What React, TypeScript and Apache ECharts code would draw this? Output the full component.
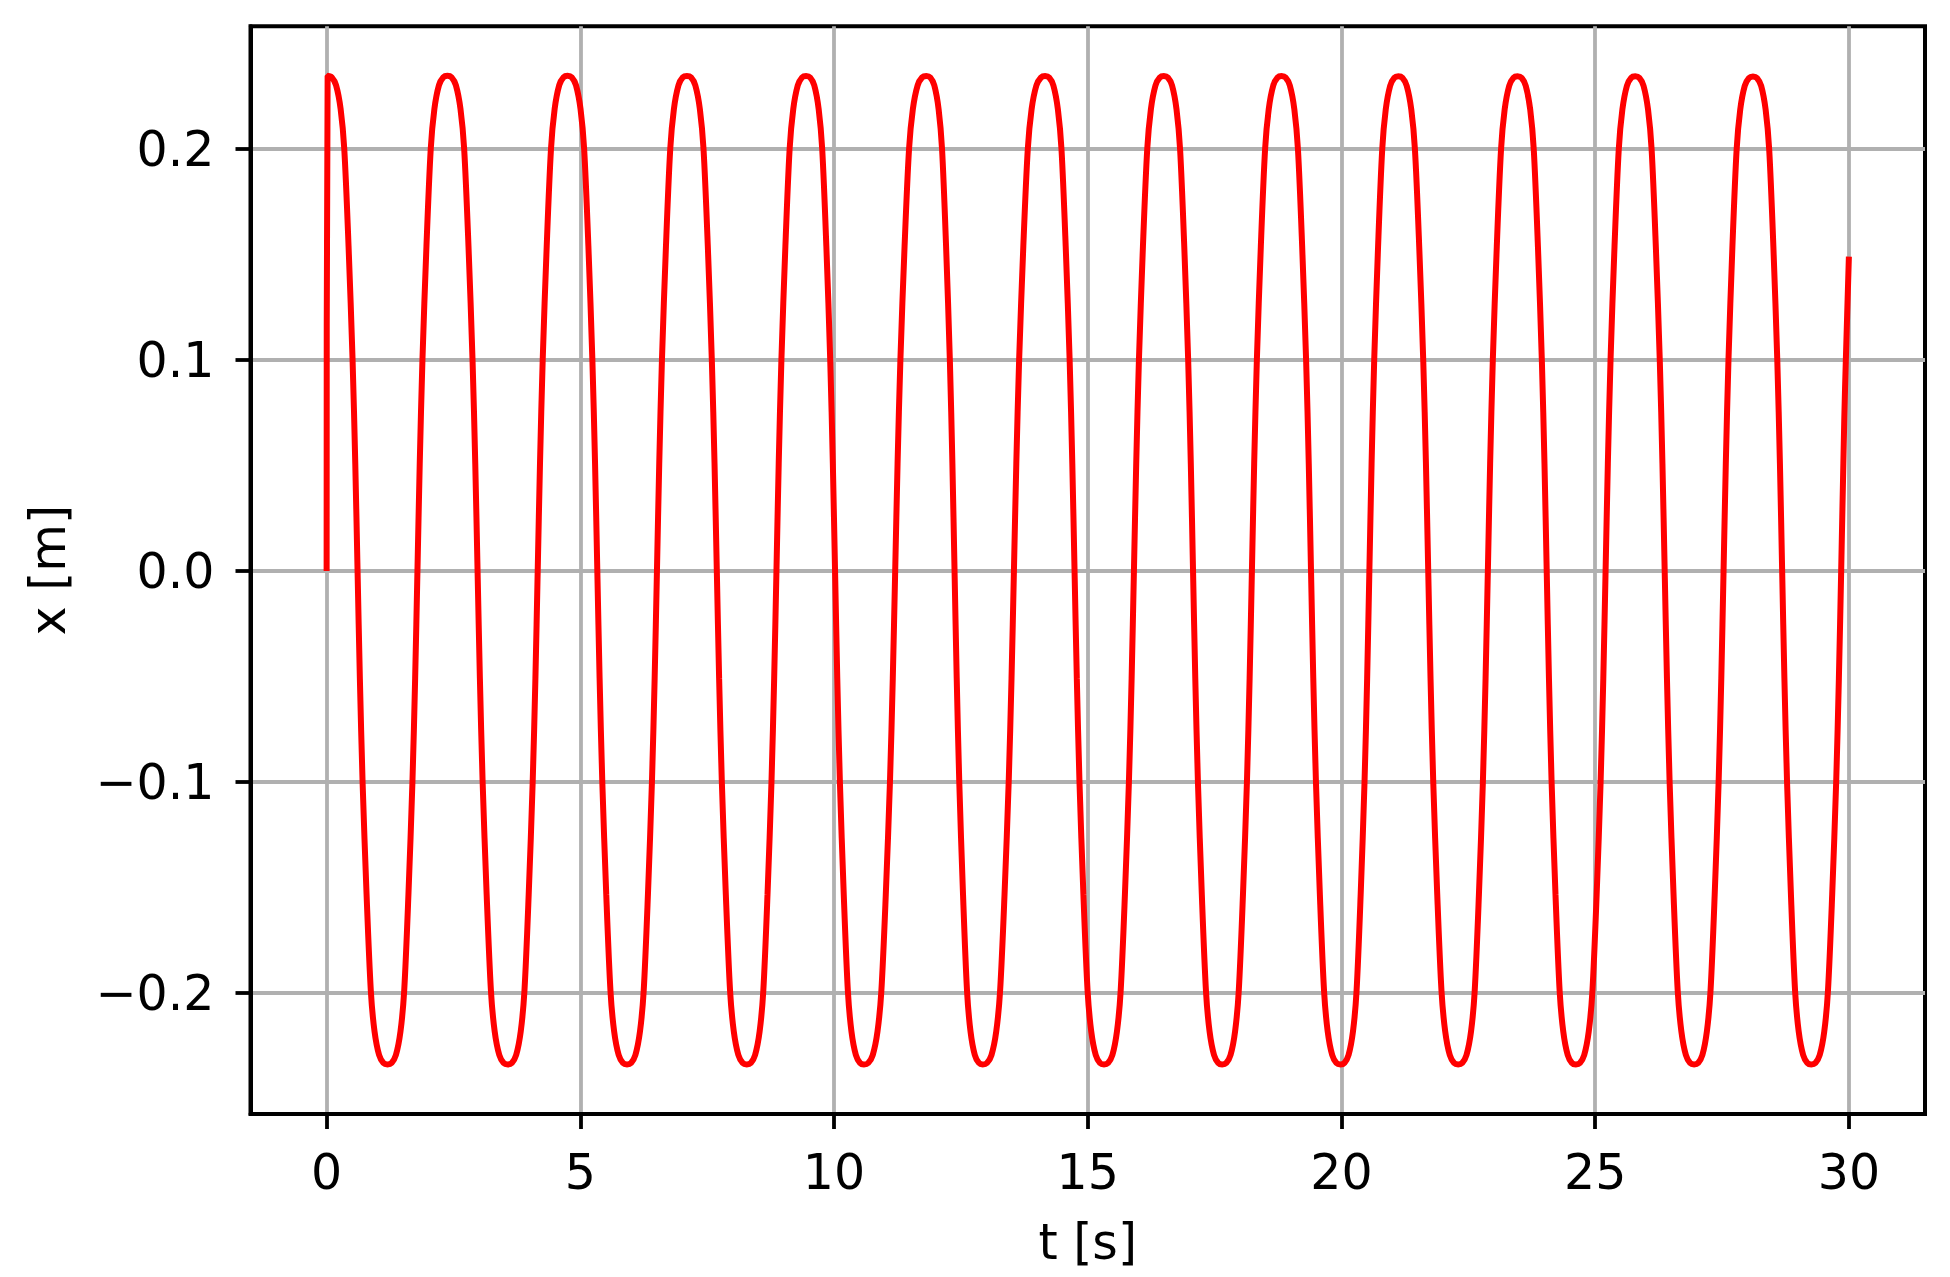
import React, { useEffect, useRef } from "react";
import * as echarts from "echarts";

// Extrema (time in s, displacement in m)
const peakTimes = [0.02, 2.38, 4.75, 7.1, 9.45, 11.82, 14.16, 16.5, 18.82, 21.12, 23.47, 25.79, 28.11];
const peakValues = [0.2348, 0.2348, 0.2348, 0.2347, 0.2347, 0.2347, 0.2346, 0.2346, 0.2346, 0.2345, 0.2345, 0.2345, 0.2344];
const troughTimes = [1.2, 3.57, 5.92, 8.28, 10.59, 12.93, 15.32, 17.65, 19.98, 22.3, 24.62, 26.95, 29.26];
const troughValues = [-0.2338, -0.2338, -0.2338, -0.2338, -0.2338, -0.2338, -0.2338, -0.2338, -0.2338, -0.2338, -0.2338, -0.2338, -0.2338];

// Shape of one quarter swing: time after an extremum (s)
// and displacement as a fraction of that extremum
const profileOffsets = [0, 0.08, 0.165, 0.255, 0.327, 0.411, 0.49, 0.543, 0.588];
const profileFractions = [1, 0.997, 0.981, 0.933, 0.852, 0.656, 0.426, 0.217, 0];

// Start and end of the record
const startTimes = [0];
const startValues = [0];
const endTimes = [29.91, 29.94, 30.0];
const endValues = [0.073, 0.1, 0.149];

// Axis ticks
const xTickValues = [0, 5, 10, 15, 20, 25, 30];
const xTickLabels = ["0", "5", "10", "15", "20", "25", "30"];
const yTickValues = [-0.2, -0.1, 0, 0.1, 0.2];
const yTickLabels = ["\u22120.2", "\u22120.1", "0.0", "0.1", "0.2"];

function buildPoints(): [number, number][] {
  const ext: [number, number][] = [];
  for (let i = 0; i < peakTimes.length; i++) {
    ext.push([peakTimes[i], peakValues[i]]);
    ext.push([troughTimes[i], troughValues[i]]);
  }
  const pts: [number, number][] = startTimes.map((t, i) => [t, startValues[i]] as [number, number]);
  const n = profileOffsets.length;
  const ref = profileOffsets[n - 1];
  for (let i = 0; i < ext.length - 1; i++) {
    const [ta, va] = ext[i];
    const [tb, vb] = ext[i + 1];
    const s = (tb - ta) / 2 / ref;
    for (let k = 0; k < n; k++) pts.push([ta + profileOffsets[k] * s, va * profileFractions[k]]);
    for (let k = n - 2; k >= 1; k--) pts.push([tb - profileOffsets[k] * s, vb * profileFractions[k]]);
  }
  const [tl, vl] = ext[ext.length - 1];
  for (let k = 0; k < n; k++) pts.push([tl + profileOffsets[k], vl * profileFractions[k]]);
  endTimes.forEach((t, i) => pts.push([t, endValues[i]]));
  return pts;
}

const FONT = "DejaVu Sans";
const FS = 49;

export default function App() {
  const ref = useRef<HTMLDivElement>(null);
  useEffect(() => {
    document.body.style.margin = "0";
    if (!ref.current) return;
    const chart = echarts.init(ref.current, undefined, { renderer: "svg" });
    chart.setOption({
      animation: false,
      backgroundColor: "#ffffff",
      grid: {
        left: 250.5,
        top: 26.3,
        right: 25,
        bottom: 163,
        show: true,
        borderColor: "#000000",
        borderWidth: 4,
        backgroundColor: "transparent",
      },
      xAxis: {
        type: "value",
        min: -1.5,
        max: 31.5,
        name: "t [s]",
        nameLocation: "middle",
        nameGap: 104,
        nameTextStyle: { fontFamily: FONT, fontSize: FS, color: "#000" },
        axisLine: { show: true, onZero: false, lineStyle: { color: "#000", width: 4 } },
        axisTick: {
          show: true,
          inside: false,
          length: 15,
          lineStyle: { color: "#000", width: 3.8 },
          customValues: xTickValues,
        },
        axisLabel: {
          customValues: xTickValues,
          margin: 34,
          fontFamily: FONT,
          fontSize: FS,
          color: "#000",
          formatter: (v: number) => {
            const i = xTickValues.findIndex((x) => Math.abs(x - v) < 1e-9);
            return i >= 0 ? xTickLabels[i] : "";
          },
        },
        splitLine: { show: true, lineStyle: { color: "#b0b0b0", width: 3.8 } },
      },
      yAxis: {
        type: "value",
        min: -0.2573,
        max: 0.2582,
        name: "x [m]",
        nameLocation: "middle",
        nameGap: 178,
        nameRotate: 90,
        nameTextStyle: { fontFamily: FONT, fontSize: FS, color: "#000" },
        axisLine: { show: true, onZero: false, lineStyle: { color: "#000", width: 4 } },
        axisTick: {
          show: true,
          inside: false,
          length: 15,
          lineStyle: { color: "#000", width: 3.8 },
          customValues: yTickValues,
        },
        axisLabel: {
          customValues: yTickValues,
          margin: 36,
          fontFamily: FONT,
          fontSize: FS,
          color: "#000",
          formatter: (v: number) => {
            const i = yTickValues.findIndex((y) => Math.abs(y - v) < 1e-9);
            return i >= 0 ? yTickLabels[i] : "";
          },
        },
        splitLine: { show: true, lineStyle: { color: "#b0b0b0", width: 3.8 } },
      },
      series: [
        {
          type: "line",
          data: buildPoints(),
          showSymbol: false,
          smooth: 0.3,
          lineStyle: { color: "#ff0000", width: 6 },
          itemStyle: { color: "#ff0000" },
        },
      ],
    });
    return () => chart.dispose();
  }, []);
  return <div ref={ref} style={{ width: 1950, height: 1277 }} />;
}
